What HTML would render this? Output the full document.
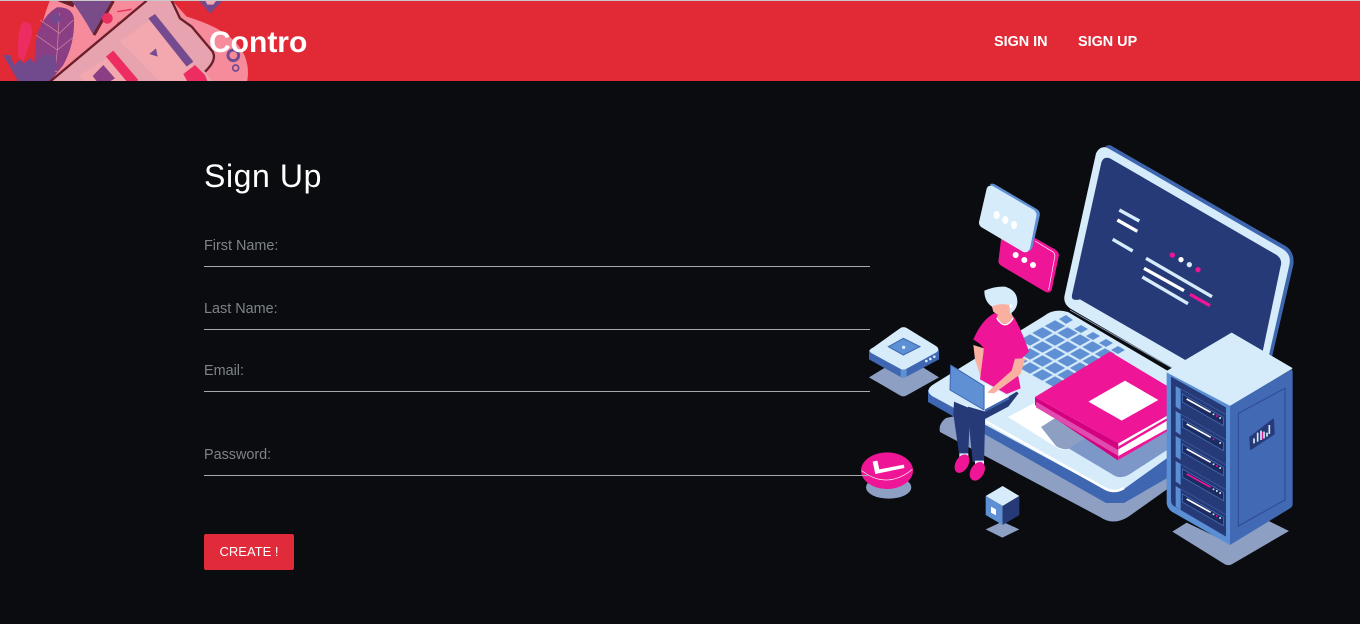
<!DOCTYPE html>
<html lang="en">
<head>
<meta charset="utf-8">
<title>Contro - Sign Up</title>
<style>
html,body{margin:0;padding:0;width:1360px;height:624px;overflow:hidden;background:#0a0c10;font-family:"Liberation Sans",sans-serif}
.abs{position:absolute;white-space:nowrap}
#top-line{left:0;top:0;width:1360px;height:1px;background:#c9c9c9}
#header{left:0;top:1px;width:1360px;height:80px;background:#e12a36}
.nav{color:#fff;font-weight:bold;font-size:14.4px;line-height:20px;top:32px}
.lab{left:204px;color:#7d8388;font-size:14.4px;line-height:20px}
.line{left:204px;width:666px;height:1px;background:#a9a9a9}
svg{position:absolute;left:0;top:0}
</style>
</head>
<body>
<div class="abs" id="top-line"></div>
<div class="abs" id="header"></div>

<svg width="1360" height="624" viewBox="0 0 1360 624">
<defs>
<clipPath id="hc"><rect x="0" y="1" width="340" height="80"/></clipPath>
<pattern id="keys" patternUnits="userSpaceOnUse" width="10" height="10" patternTransform="matrix(1.25 .7 -1.25 .7 1055 319)">
<rect x=".9" y=".9" width="8.2" height="8.2" fill="#5f90d3"/>
</pattern>
</defs>

<!-- header art (coordinates in 3x zoom space) -->
<g clip-path="url(#hc)">
<g transform="scale(.33333)">
<path d="M150 0 L515 0 L560 50 Q610 65 650 85 Q715 120 735 170 Q750 210 740 250 L100 250 Q100 130 150 0Z" fill="#f58b9b"/>
<path d="M105 150 Q110 60 170 22 Q215 20 222 55 Q225 130 190 195 L150 245 L100 245Z" fill="#8a3f85"/>
<path d="M108 105 L172 150 M120 60 L178 100 M178 100 L220 60 M172 150 L222 110 M178 40 L172 150 L165 210 M135 222 Q160 205 180 220" stroke="#d58ba5" stroke-width="2" fill="none"/>
<path d="M148 50 L172 35 L185 60 L160 75Z" fill="#74488c"/>
<path d="M55 170 Q50 75 75 65 Q105 70 92 120 L70 185Z" fill="#ed2d62"/>
<path d="M10 165 L30 165 L42 195 L60 178 L72 190 L90 175 L105 190 L130 165 L165 165 L170 200 L150 245 L55 245Z" fill="#704a8c"/>
<path d="M172 3 L220 22 L225 3Z" fill="#6a1f2b"/>
<path d="M215 3 L335 3 L290 100 L280 105 Q250 50 215 3Z" fill="#794b88"/>
<path d="M282 105 L340 3" stroke="#6a1f2b" stroke-width="9"/>
<circle cx="322" cy="55" r="16" fill="#e82f5f"/>
<path d="M332 115 L350 85 M350 100 L368 68 M352 35 L395 28 M352 70 L390 55" stroke="#e82f5f" stroke-width="4"/>
<path d="M440 0 L515 0 L540 55 L575 80 L640 160 Q650 180 615 215 L640 250 L150 250Z" fill="#e7a3af"/>
<path d="M150 245 L440 2 M515 2 L540 55 L575 80 L638 155 Q652 180 615 215" stroke="#6a1f2b" stroke-width="7" fill="none"/>
<path d="M360 125 L450 60 L590 210 L550 250 L485 250 Z" fill="#f2a8ae"/>
<path d="M240 225 L335 165 L395 250 L255 250Z" fill="#f2a8ae"/>
<path d="M445 55 L465 42 L580 185 L560 200Z" fill="#744b8e"/>
<path d="M318 170 L340 152 L415 240 L400 250 L385 250Z" fill="#ed2d62"/>
<path d="M278 228 L310 195 L345 235 L320 250 L295 250Z" fill="#8a3f85"/>
<path d="M448 162 L468 145 L473 170Z" fill="#744b8e"/>
<path d="M550 222 L585 195 L615 225 L625 250 L565 250Z" fill="#ed2d62"/>
<path d="M595 0 L670 0 L630 40Z" fill="#74488c"/>
<path d="M615 0 H650 L640 14 H622Z" fill="#f2a8ae"/>
<circle cx="700" cy="166" r="16" fill="none" stroke="#744b8e" stroke-width="9"/>
<circle cx="707" cy="204" r="9" fill="none" stroke="#744b8e" stroke-width="5"/>
</g>
</g>

<!-- laptop base -->
<g>
<path d="M940 432 Q938 424 946 418 L1030 400 L1167 400 L1180 480 L1128 517 Q1113 526 1100 517Z" fill="#8e9fc4"/>
<path d="M928 390 L928 402 L1106 503 H1124 L1240 436 V410 Z" fill="#3f66b0"/>
<path d="M934 384 L1044 316 Q1054 308 1068 312 L1234 410 L1124 489 Q1114 494 1104 489 L932 396 Q924 390 934 384Z" fill="#d6ecfb"/>
<path d="M985 421 L1104 488 Q1114 494 1124 488" fill="none" stroke="#fff" stroke-width="2.5"/>
<path d="M1008 417 L1040 400 L1090 430 L1068 449 Q1062 451 1056 447Z" fill="#fff"/>
<path d="M1083 436 L1167 412 V450 L1130 474 Q1122 479 1115 476 L1068 448Z" fill="#7c97c8"/>
<path d="M1041 427 L1060 415 L1095 432 L1068 449 Q1062 450 1056 446Z" fill="#8e9fc4"/>
</g>

<!-- laptop screen -->
<g transform="translate(1060,140) scale(.33333)">
<path d="M135 18 L150 15 L680 320 Q705 340 700 375 L620 720 L600 720 L660 360Z" fill="#3e66ae"/>
<path d="M108 40 Q118 18 140 22 L670 328 Q695 345 688 375 L610 720 L400 720 L30 505 Q8 490 14 465Z" fill="#d6ecfb"/>
<path d="M124 68 Q130 48 150 55 L650 345 Q668 358 662 378 L590 720 L480 720 L60 478 Q32 485 36 465Z" fill="#273a78"/>
<path d="M178 210 L238 243 M158 298 L218 333 M258 355 L456 470 M247 411 L384 491" stroke="#d6ecfb" stroke-width="10"/>
<path d="M172 240 L232 274 M252 385 L372 452" stroke="#fff" stroke-width="10"/>
<path d="M390 463 L450 497" stroke="#ef1597" stroke-width="10"/>
<circle cx="337" cy="345" r="8" fill="#ef1597"/><circle cx="363" cy="359" r="8" fill="#fff"/><circle cx="388" cy="374" r="8" fill="#d6ecfb"/><circle cx="414" cy="389" r="8" fill="#ef1597"/>
</g>
<path d="M1070 310 L1172 368" stroke="#8a9cb5" stroke-width="1"/>

<!-- keyboard -->
<polygon points="1055,319 1117,354 1055,389 993,354" fill="url(#keys)"/>
<g fill="#5f90d3">
<polygon points="1066,315 1073,320 1066,324 1059,319"/>
<polygon points="1081,325 1088,329 1081,333 1074,329"/>
<polygon points="1093,332 1100,336 1093,340 1086,336"/>
<polygon points="1106,339 1113,343 1106,347 1099,343"/>
<polygon points="1118,346 1125,350 1118,354 1111,350"/>
</g>

<!-- book -->
<g transform="translate(1060,330) scale(.33333)">
<path d="M-75 201 L-75 225 L175 392 L175 340Z" fill="#d4007f"/>
<path d="M-72 215 L175 360 L175 378 L-72 232Z" fill="#e04bb0"/>
<path d="M175 340 L325 255 L325 300 L175 390Z" fill="#fff"/>
<path d="M175 349 L325 262 L325 270 L175 358Z M175 378 L325 295 L325 302 L175 390Z" fill="#ef1597"/>
<path d="M-75 201 L150 65 L325 170 L325 255 L175 340Z" fill="#ef1597"/>
<path d="M195 152 L295 210 L185 272 L85 215Z" fill="#fff"/>
</g>

<!-- server -->
<g transform="translate(1060,330) scale(.33333)">
<path d="M337 605 L380 578 L510 640 L620 570 L687 603 L515 703 Q505 708 495 703Z" fill="#8e9fc4"/>
<path d="M320 125 L510 225 L510 645 L335 545 Q322 535 320 520Z" fill="#5a8ed5"/>
<path d="M510 225 L695 118 Q698 120 698 130 L698 522 Q698 530 690 535 L510 645Z" fill="#4169b4"/>
<path d="M320 125 L515 10 L695 115 L510 225Z" fill="#d6ecfb" stroke="#d6ecfb" stroke-linejoin="round" stroke-width="4"/>
<path d="M333 140 L498 232 L498 620 L345 530 Q333 525 333 510Z" fill="#273a78"/>
<path d="M535 250 L675 175 L675 510 L535 588Z" fill="none" stroke="#2d4a8f" stroke-width="3"/>
<path d="M570 322 L640 268 L642 312 L572 358Z" fill="#273a78" stroke="#273a78" stroke-width="4" stroke-linejoin="round"/>
<path d="M582 340 V325 M593 335 V308 M603 330 V302 M612 325 V305 M621 320 V308 M628 312 V285" stroke="#d6ecfb" stroke-width="5"/>
<path d="M608 328 V306" stroke="#ef1597" stroke-width="3"/>
<g>
<path d="M347 168 L362 177 L362 240 L347 230Z" fill="#5a8ed5"/><path d="M362 177 L498 254" stroke="#3f5fa8" stroke-width="2"/><path d="M367 192 L490 262 L490 287 L367 216Z" fill="#1c2b60" stroke="#4a78c2" stroke-width="2"/><path d="M380 207 L452 247" stroke="#fff" stroke-width="5"/><path d="M458 253 h5 M478 264 h5" stroke="#d6ecfb" stroke-width="5"/><path d="M468 258 h5" stroke="#ef1597" stroke-width="5"/>
</g>
<g transform="translate(0,75)">
<path d="M347 168 L362 177 L362 240 L347 230Z" fill="#5a8ed5"/><path d="M362 177 L498 254" stroke="#3f5fa8" stroke-width="2"/><path d="M367 192 L490 262 L490 287 L367 216Z" fill="#1c2b60" stroke="#4a78c2" stroke-width="2"/><path d="M380 207 L452 247" stroke="#fff" stroke-width="5"/><path d="M478 264 h5" stroke="#d6ecfb" stroke-width="5"/><path d="M458 253 h5" stroke="#ef1597" stroke-width="5"/>
</g>
<g transform="translate(0,150)">
<path d="M347 168 L362 177 L362 240 L347 230Z" fill="#5a8ed5"/><path d="M362 177 L498 254" stroke="#3f5fa8" stroke-width="2"/><path d="M367 192 L490 262 L490 287 L367 216Z" fill="#1c2b60" stroke="#4a78c2" stroke-width="2"/><path d="M380 207 L452 247" stroke="#fff" stroke-width="5"/><path d="M458 253 h5 M478 264 h5" stroke="#d6ecfb" stroke-width="5"/><path d="M468 258 h5" stroke="#ef1597" stroke-width="5"/>
</g>
<g transform="translate(0,225)">
<path d="M347 168 L362 177 L362 240 L347 230Z" fill="#5a8ed5"/><path d="M362 177 L498 254" stroke="#3f5fa8" stroke-width="2"/><path d="M367 192 L490 262 L490 287 L367 216Z" fill="#1c2b60" stroke="#4a78c2" stroke-width="2"/><path d="M380 207 L452 247" stroke="#ef1597" stroke-width="5"/><path d="M458 253 h5 M468 258 h5 M478 264 h5" stroke="#d6ecfb" stroke-width="5"/>
</g>
<g transform="translate(0,300)">
<path d="M347 168 L362 177 L362 240 L347 230Z" fill="#5a8ed5"/><path d="M362 177 L498 254" stroke="#3f5fa8" stroke-width="2"/><path d="M367 192 L490 262 L490 287 L367 216Z" fill="#1c2b60" stroke="#4a78c2" stroke-width="2"/><path d="M380 207 L452 247" stroke="#fff" stroke-width="5"/><path d="M458 253 h5 M478 264 h5" stroke="#d6ecfb" stroke-width="5"/><path d="M468 258 h5" stroke="#ef1597" stroke-width="5"/>
</g>
</g>

<!-- chat bubbles -->
<g transform="translate(860,140) scale(.33333)">
<path d="M430 240 L585 328 Q600 338 596 350 L575 450 Q568 462 555 455 L425 378 Q412 370 416 358Z" fill="#ef1597"/>
<path d="M525 303 L578 335 Q587 342 584 352 L566 450" fill="none" stroke="#fff" stroke-width="2"/>
<circle cx="467" cy="345" r="9" fill="#fff"/><circle cx="493" cy="360" r="9" fill="#fff"/><circle cx="519" cy="375" r="9" fill="#fff"/>
<path d="M390 133 Q398 128 408 135 L530 207 Q542 214 539 228 L518 320 Q514 332 508 333 L440 200Z" fill="#5f90d3"/>
<path d="M380 146 Q384 134 398 138 L520 209 Q532 217 529 230 L510 325 Q504 340 490 336 L365 262 Q354 254 358 242Z" fill="#d6ecfb"/>
<ellipse cx="410" cy="225" rx="9" ry="12" fill="#fff"/><ellipse cx="436" cy="240" rx="9" ry="12" fill="#fff"/><ellipse cx="462" cy="255" rx="9" ry="12" fill="#fff"/>
</g>

<!-- small illustration pieces and legs -->
<g transform="translate(860,340) scale(.33333)">
<g>
<path d="M27 112 L75 83 L130 113 L190 83 L237 112 L140 166 Q130 172 120 166Z" fill="#8e9fc4"/>
<path d="M27 30 L27 58 L120 110 Q130 115 140 110 L237 58 L237 30Z" fill="#3f66b0"/>
<path d="M122 82 L140 82 L140 110 Q130 115 122 110Z" fill="#5f90d3"/>
<path d="M40 22 L120 -35 Q130 -42 142 -35 L228 18 Q242 28 228 38 L140 86 Q130 92 120 86 L36 40 Q20 32 40 22Z" fill="#d6ecfb"/>
<path d="M85 20 L130 -5 L180 20 L130 45Z" fill="#5c8fd3" stroke="#3f66b0" stroke-width="3"/>
<circle cx="131" cy="22" r="5" fill="#d6ecfb"/>
<circle cx="199" cy="63" r="4" fill="#d6ecfb"/><circle cx="211" cy="57" r="4" fill="#d6ecfb"/><circle cx="223" cy="50" r="4" fill="#d6ecfb"/>
</g>
<g>
<ellipse cx="86" cy="442" rx="68" ry="34" fill="#8e9fc4"/>
<ellipse cx="81" cy="392" rx="78" ry="55" fill="#ef1597"/>
<path d="M5 392 Q80 450 157 388" fill="none" stroke="#fff" stroke-width="2"/>
<path d="M38 365 L52 362 L58 388 L132 374 L133 384 L46 402Z" fill="#fff"/>
</g>
<g>
<path d="M427 545 L478 568 L427 593 L377 568Z" fill="#8e9fc4"/>
<path d="M428 438 L478 468 L428 498 L377 468Z" fill="#d6ecfb"/>
<path d="M377 468 L428 498 L428 555 L377 525Z" fill="#5f90d3"/>
<path d="M428 498 L478 468 L478 525 L428 555Z" fill="#273a78"/>
<path d="M393 500 L408 508 L408 526 L393 518Z" fill="#fff"/>
</g>
<g>
<path d="M372 215 L470 155 L476 160 L445 200 L375 237Z" fill="#273a78"/>
<path d="M282 185 L330 205 L325 340 L297 340 L280 222Z" fill="#273a78"/>
<path d="M324 200 L376 215 L372 368 L338 366 L326 245Z" fill="#273a78"/>
<path d="M298 340 L325 340 L325 352 L298 352Z M345 362 L372 362 L372 378 L345 378Z" fill="#d6ecfb"/>
<ellipse cx="306" cy="371" rx="19" ry="30" transform="rotate(30 306 371)" fill="#ef1597"/>
<ellipse cx="352" cy="394" rx="20" ry="30" transform="rotate(30 352 394)" fill="#ef1597"/>
</g>
</g>

<!-- person upper body, coordinates in 3x zoom space of the 120x130 crop -->
<g transform="translate(930,280) scale(.33333)">
<path d="M165 310 L237 350 L165 388Z" fill="#fff"/>
<path d="M165 388 L237 350 L237 358 L165 396Z" fill="#3f66b0"/>
<path d="M130 195 L162 205 L155 300 L135 238Z" fill="#fab0a0"/>
<path d="M130 178 Q155 120 192 100 L250 108 Q275 150 297 215 L275 236 L255 240 L272 325 L230 342 L150 298 L162 205 L150 192Z" fill="#ef1597"/>
<path d="M255 236 L286 235 L272 282 L192 340 L172 338 L185 325 L245 272Z" fill="#fab0a0"/>
<path d="M200 112 L215 85 L240 85 L250 115 Q225 150 200 112Z" fill="#fab0a0"/>
<path d="M200 114 Q225 155 250 114" fill="none" stroke="#fff" stroke-width="4"/>
<path d="M183 70 L250 68 L242 98 Q215 118 190 95Z" fill="#fab0a0"/>
<path d="M163 32 Q195 18 225 20 Q264 32 262 68 Q260 90 240 102 L238 75 Q210 68 186 80 Q163 65 163 32Z" fill="#d6ecfb"/>
<circle cx="243" cy="78" r="5" fill="#fff"/>
<path d="M62 255 L162 318 L162 390 L60 330Z" fill="#5f90d3" stroke="#3f66b0" stroke-width="3" stroke-linejoin="round"/>
</g>
</svg>

<div class="abs" style="left:209px;top:25px;color:#fff;font-size:30px;font-weight:bold;line-height:36px">Contro</div>
<div class="abs nav" style="left:994px">SIGN IN</div>
<div class="abs nav" style="left:1078px">SIGN UP</div>

<div class="abs" style="left:204px;top:157px;color:#fff;font-size:32px;line-height:38px;letter-spacing:.6px">Sign Up</div>

<div class="abs lab" style="top:236px">First Name:</div>
<div class="abs line" style="top:266px"></div>
<div class="abs lab" style="top:299px">Last Name:</div>
<div class="abs line" style="top:329px"></div>
<div class="abs lab" style="top:361px">Email:</div>
<div class="abs line" style="top:391px"></div>
<div class="abs lab" style="top:445px">Password:</div>
<div class="abs line" style="top:475px"></div>

<div class="abs" style="left:204px;top:534px;width:90px;height:36px;background:#e12a3a;border-radius:2px;color:#fff;font-size:13px;line-height:36px;text-align:center">CREATE !</div>
</body>
</html>
